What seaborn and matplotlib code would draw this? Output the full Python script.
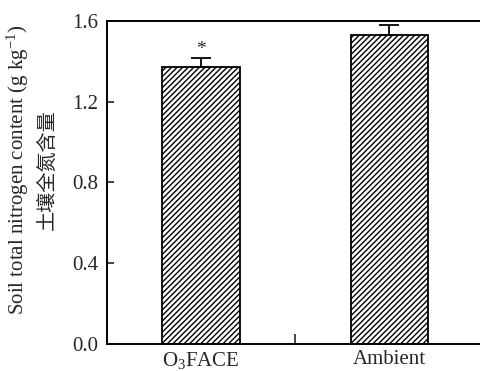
import matplotlib
matplotlib.use("Agg")
import matplotlib.pyplot as plt
import seaborn as sns
import pandas as pd

categories = ["O$_3$FACE", "Ambient"]
values = [1.37, 1.53]
errors = [0.045, 0.05]
marks = ["*", ""]
yticks = [0.0, 0.4, 0.8, 1.2, 1.6]

sns.set_theme(style="ticks")
plt.rcParams["font.family"] = ["Liberation Serif", "DejaVu Serif"]
plt.rcParams["mathtext.fontset"] = "custom"
plt.rcParams["mathtext.rm"] = "Liberation Serif"
plt.rcParams["mathtext.it"] = "Liberation Serif:italic"
plt.rcParams["hatch.linewidth"] = 1.0
plt.rcParams["hatch.color"] = "black"

df = pd.DataFrame({"cat": categories, "val": values})

fig = plt.figure(figsize=(4.8, 3.71), dpi=100)
ax = fig.add_axes([0.2223, 0.0728, 1.0073 - 0.2223, 0.9434 - 0.0728])

sns.barplot(data=df, x="cat", y="val", color="white", saturation=1,
            edgecolor="black", linewidth=1.3, hatch="//////", width=0.41,
            errorbar=None, ax=ax)

x = list(range(len(categories)))
ax.errorbar(x, values, yerr=[[0] * len(errors), errors], fmt="none",
            ecolor="black", elinewidth=1.3, capsize=7, capthick=1.3)
for xi, v, e, m in zip(x, values, errors, marks):
    if m:
        ax.text(xi, v + e + 0.003, m, ha="center", va="bottom", fontsize=14)

ax.set_xlim(-0.5, 1.5)
ax.set_ylim(0, 1.6)
ax.set_yticks(yticks)
ax.set_yticklabels([f"{t:.1f}" for t in yticks], fontsize=15)
ax.set_xticks([0.5])
ax.set_xticklabels([""])
ax.tick_params(axis="y", direction="in", length=5, width=1.2, pad=6)
ax.tick_params(axis="x", direction="in", length=7, width=1.2)
for i, c in enumerate(categories):
    ax.text(i, -0.03, c, ha="center", va="top", fontsize=15,
            transform=ax.transData)
ax.set_xlabel("")
ax.set_ylabel("")
for s in ["left", "bottom", "top"]:
    ax.spines[s].set_linewidth(1.4)
    ax.spines[s].set_color("black")
ax.spines["right"].set_visible(False)

fig.text(18 / 480, 0.542, "Soil total nitrogen content (g kg$^{-1}$)",
         rotation=90, ha="center", va="center", fontsize=15)
fig.text(47 / 480, 0.542, "土壤全氮含量", rotation=90, ha="center", va="center",
         fontsize=14.5, family=["Noto Sans CJK SC", "DejaVu Sans"])

fig.savefig("out.png", dpi=100)
